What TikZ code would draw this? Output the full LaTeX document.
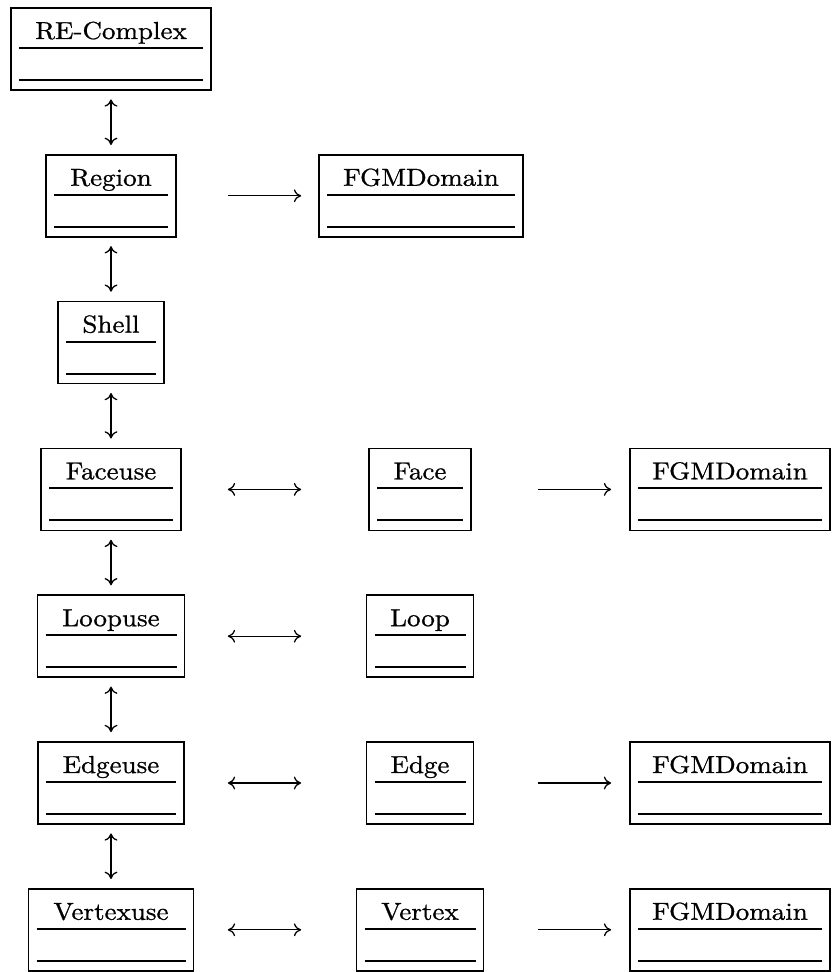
\documentclass[tikz,border=0pt]{standalone}
\usepackage{fontspec}
\usepackage{graphicx}
\usetikzlibrary{arrows.meta,calc}
% class names: Latin Modern, slightly heavier and widened
\newfontfamily\clsfont{lmroman10-regular.otf}[FakeBold=0.8]
\newcommand\clsname[1]{\scalebox{1.1}[1]{#1}}
\begin{document}
\begin{tikzpicture}[
  x=0.468pt, y=-0.468pt,
  umlbox/.style={draw, line width=0.8pt, rectangle, inner xsep=0pt, inner ysep=0pt,
    minimum width={#1*0.468pt}, text height=14.5pt, text depth=23.88pt,
    font=\clsfont\fontsize{11.5}{13}\selectfont,
    path picture={
      \draw[line width=0.85pt]
        ($(path picture bounding box.north west)+(8,40)$) --
        ($(path picture bounding box.north east)+(-8,40)$);
      \draw[line width=0.85pt]
        ($(path picture bounding box.north west)+(8,72)$) --
        ($(path picture bounding box.north east)+(-8,72)$);
    }},
  link/.style={line width=0.6pt},
  cmtip/.tip={Computer Modern Rightarrow[length=3.4pt,width=6pt]},
  oneway/.style={link, -cmtip},
  twoway/.style={link, cmtip-cmtip},
  gap/.style 2 args={shorten <={#1*0.468pt}, shorten >={#2*0.468pt}},
]
\useasboundingbox (0,0) rectangle (840,972);

% left column: the "use" hierarchy
\node[umlbox=200] (recomplex) at (111,49)    {\clsname{RE-Complex}};
\node[umlbox=130] (region)    at (111,195.8) {\clsname{Region}};
\node[umlbox=106] (shell)     at (111,342.6) {\clsname{Shell}};
\node[umlbox=140] (faceuse)   at (111,489.4) {\clsname{Faceuse}};
\node[umlbox=147] (loopuse)   at (111,636.2) {\clsname{Loopuse}};
\node[umlbox=146] (edgeuse)   at (111,783)   {\clsname{Edgeuse}};
\node[umlbox=165] (vertexuse) at (111,929.8) {\clsname{Vertexuse}};

% middle column: topological entities
\node[umlbox=204] (regiondomain) at (421,195.8) {\clsname{FGMDomain}};
\node[umlbox=102] (face)   at (420,489.4) {\clsname{Face}};
\node[umlbox=107] (loop)   at (420,636.2) {\clsname{Loop}};
\node[umlbox=107] (edge)   at (420,783)   {\clsname{Edge}};
\node[umlbox=127] (vertex) at (420,929.8) {\clsname{Vertex}};

% right column: geometric domains
\node[umlbox=200] (facedomain)   at (730,489.4) {\clsname{FGMDomain}};
\node[umlbox=200] (edgedomain)   at (730,783)   {\clsname{FGMDomain}};
\node[umlbox=200] (vertexdomain) at (730,929.8) {\clsname{FGMDomain}};

% vertical links
\draw[twoway, gap={8.5}{9}] (recomplex) -- (region);
\draw[twoway, gap={8.5}{9}] (region)    -- (shell);
\draw[twoway, gap={8.5}{9}] (shell)     -- (faceuse);
\draw[twoway, gap={8.5}{9}] (faceuse)   -- (loopuse);
\draw[twoway, gap={8.5}{9}] (loopuse)   -- (edgeuse);
\draw[twoway, gap={8.5}{9}] (edgeuse)   -- (vertexuse);

% horizontal links
\draw[oneway, gap={51}{17}]     (region)    -- (regiondomain);
\draw[twoway, gap={46}{67}]     (faceuse)   -- (face);
\draw[oneway, gap={66}{18}]     (face)      -- (facedomain);
\draw[twoway, gap={42.5}{64.5}] (loopuse)   -- (loop);
\draw[twoway, gap={43}{64.5}]   (edgeuse)   -- (edge);
\draw[oneway, gap={63.5}{18}]   (edge)      -- (edgedomain);
\draw[twoway, gap={33.5}{54.5}] (vertexuse) -- (vertex);
\draw[oneway, gap={53.5}{18}]   (vertex)    -- (vertexdomain);
\end{tikzpicture}
\end{document}
